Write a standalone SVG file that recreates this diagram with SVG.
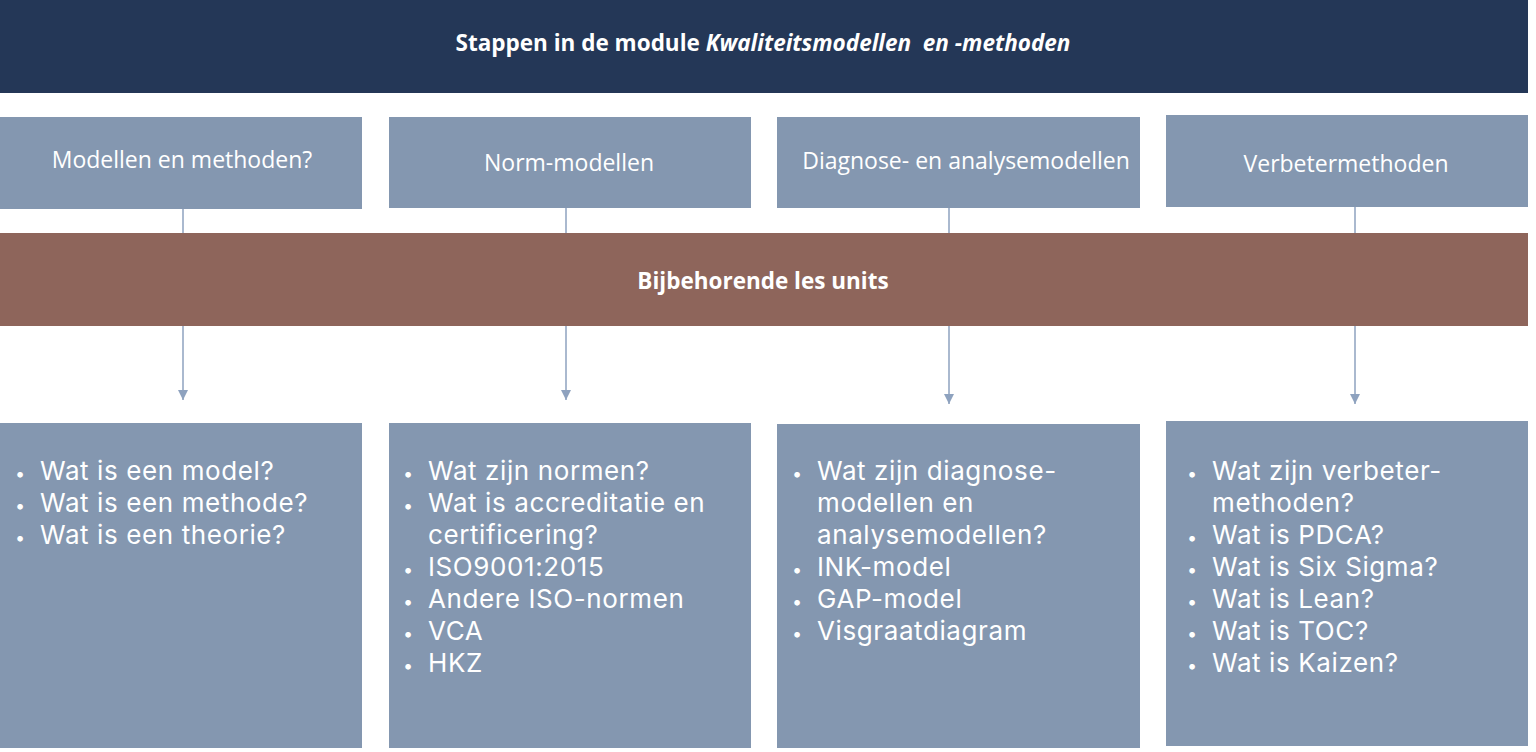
<svg xmlns="http://www.w3.org/2000/svg" width="1536" height="752" viewBox="0 0 1536 752">
<defs>
<style>
.banner{fill:#243757}
.box{fill:#8497b0}
.bar{fill:#8e655b}
.title{font-family:"Open Sans","Liberation Sans",sans-serif;font-weight:bold;font-size:22.5px;fill:#ffffff}
.head{font-family:"Open Sans","Liberation Sans",sans-serif;font-size:23px;fill:#ffffff}
.item{font-family:Inter,"Open Sans","Liberation Sans",sans-serif;font-size:26px;font-weight:400;letter-spacing:0.6px;fill:#ffffff}
.b{font-size:18px}
.conn{stroke:#8ea2bf;stroke-width:1.5;fill:none}
</style>
<marker id="arr" viewBox="0 0 10 10" refX="10" refY="5" markerWidth="10" markerHeight="10" markerUnits="userSpaceOnUse" orient="auto">
<path d="M0,0 L10,5 L0,10 z" fill="#8ea2bf"/>
</marker>
</defs>
<rect width="1536" height="752" fill="#ffffff"/>
<g id="banner">
<rect class="banner" x="0" y="0" width="1528" height="93"/>
<text class="title" x="763" y="51" text-anchor="middle">Stappen in de module <tspan font-style="italic">Kwaliteitsmodellen&#160; en -methoden</tspan></text>
</g>
<g id="connectors">
<line class="conn" x1="183" y1="209" x2="183" y2="233"/>
<line class="conn" x1="566" y1="208" x2="566" y2="233"/>
<line class="conn" x1="949" y1="208" x2="949" y2="233"/>
<line class="conn" x1="1355" y1="207" x2="1355" y2="233"/>
<line class="conn" x1="183" y1="326" x2="183" y2="400" marker-end="url(#arr)"/>
<line class="conn" x1="566" y1="326" x2="566" y2="400" marker-end="url(#arr)"/>
<line class="conn" x1="949" y1="326" x2="949" y2="404" marker-end="url(#arr)"/>
<line class="conn" x1="1355" y1="326" x2="1355" y2="404" marker-end="url(#arr)"/>
</g>
<g id="step1">
<rect class="box" x="0" y="117" width="362" height="92"/>
<text class="head" x="182" y="168" text-anchor="middle">Modellen en methoden?</text>
</g>
<g id="step2">
<rect class="box" x="389" y="117" width="362" height="91"/>
<text class="head" x="569" y="171" text-anchor="middle">Norm-modellen</text>
</g>
<g id="step3">
<rect class="box" x="777" y="117" width="363" height="91"/>
<text class="head" x="966" y="169" text-anchor="middle">Diagnose- en analysemodellen</text>
</g>
<g id="step4">
<rect class="box" x="1166" y="115" width="362" height="92"/>
<text class="head" x="1346" y="172" text-anchor="middle">Verbetermethoden</text>
</g>
<g id="units">
<rect class="bar" x="0" y="233" width="1528" height="93"/>
<text class="title" x="763" y="289" text-anchor="middle">Bijbehorende les units</text>
</g>
<g id="list1">
<rect class="box" x="0" y="423" width="362" height="325"/>
<text class="item" y="480"><tspan class="b" x="15">•</tspan><tspan x="40">Wat is een model?</tspan></text>
<text class="item" y="512"><tspan class="b" x="15">•</tspan><tspan x="40">Wat is een methode?</tspan></text>
<text class="item" y="544"><tspan class="b" x="15">•</tspan><tspan x="40">Wat is een theorie?</tspan></text>
</g>
<g id="list2">
<rect class="box" x="389" y="423" width="362" height="325"/>
<text class="item" y="480"><tspan class="b" x="403">•</tspan><tspan x="428">Wat zijn normen?</tspan></text>
<text class="item" y="512"><tspan class="b" x="403">•</tspan><tspan x="428">Wat is accreditatie en</tspan></text>
<text class="item" x="428" y="544">certificering?</text>
<text class="item" y="576"><tspan class="b" x="403">•</tspan><tspan x="428">ISO9001:2015</tspan></text>
<text class="item" y="608"><tspan class="b" x="403">•</tspan><tspan x="428">Andere ISO-normen</tspan></text>
<text class="item" y="640"><tspan class="b" x="403">•</tspan><tspan x="428">VCA</tspan></text>
<text class="item" y="672"><tspan class="b" x="403">•</tspan><tspan x="428">HKZ</tspan></text>
</g>
<g id="list3">
<rect class="box" x="777" y="424" width="363" height="324"/>
<text class="item" y="480"><tspan class="b" x="792">•</tspan><tspan x="817">Wat zijn diagnose-</tspan></text>
<text class="item" x="817" y="512">modellen en</text>
<text class="item" x="817" y="544">analysemodellen?</text>
<text class="item" y="576"><tspan class="b" x="792">•</tspan><tspan x="817">INK-model</tspan></text>
<text class="item" y="608"><tspan class="b" x="792">•</tspan><tspan x="817">GAP-model</tspan></text>
<text class="item" y="640"><tspan class="b" x="792">•</tspan><tspan x="817">Visgraatdiagram</tspan></text>
</g>
<g id="list4">
<rect class="box" x="1166" y="421" width="362" height="325"/>
<text class="item" y="480"><tspan class="b" x="1187">•</tspan><tspan x="1212">Wat zijn verbeter-</tspan></text>
<text class="item" x="1212" y="512">methoden?</text>
<text class="item" y="544"><tspan class="b" x="1187">•</tspan><tspan x="1212">Wat is PDCA?</tspan></text>
<text class="item" y="576"><tspan class="b" x="1187">•</tspan><tspan x="1212">Wat is Six Sigma?</tspan></text>
<text class="item" y="608"><tspan class="b" x="1187">•</tspan><tspan x="1212">Wat is Lean?</tspan></text>
<text class="item" y="640"><tspan class="b" x="1187">•</tspan><tspan x="1212">Wat is TOC?</tspan></text>
<text class="item" y="672"><tspan class="b" x="1187">•</tspan><tspan x="1212">Wat is Kaizen?</tspan></text>
</g>
</svg>
